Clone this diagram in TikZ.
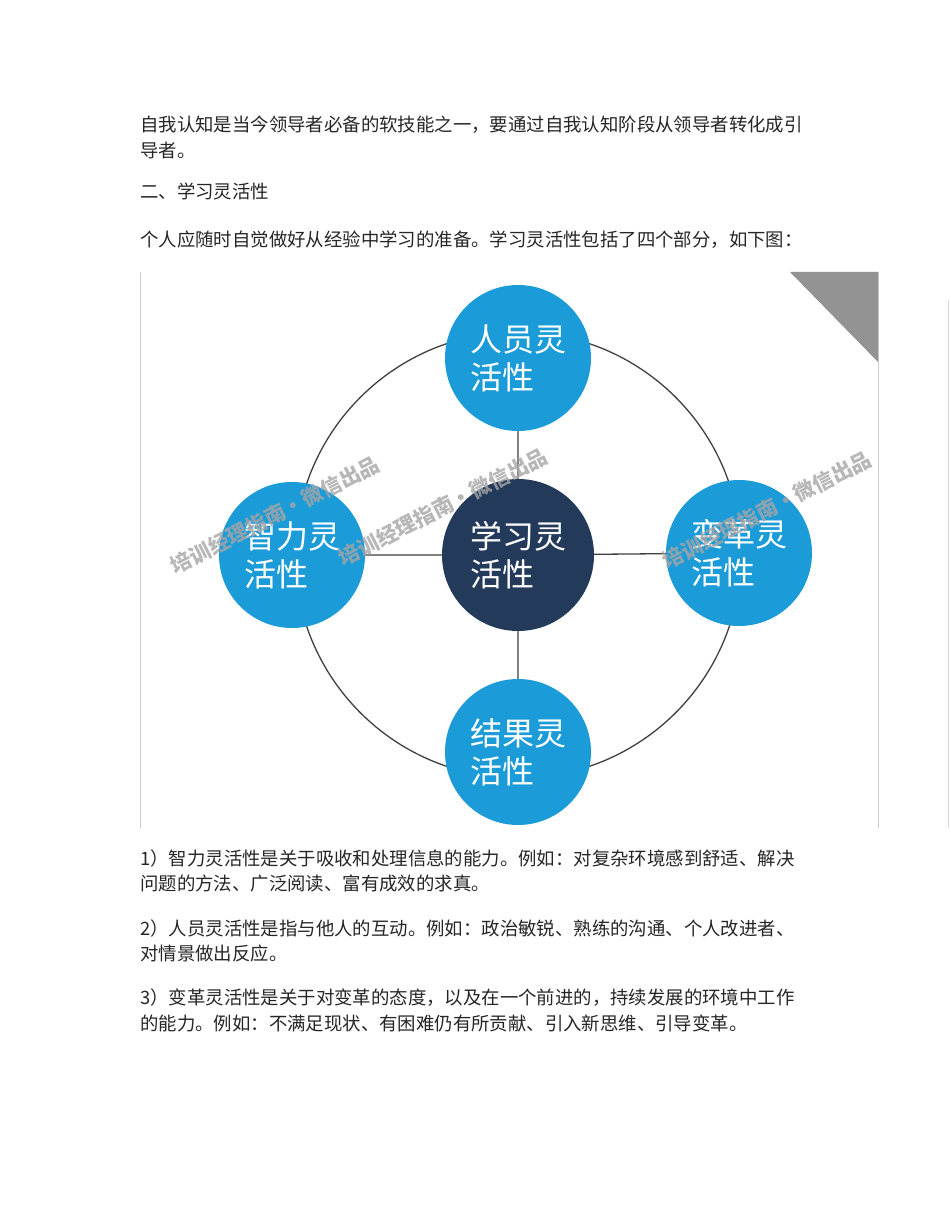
\documentclass[tikz,border=0pt]{standalone}
\usepackage{fontspec}
\setmainfont{Noto Sans CJK SC}
\newfontfamily\cjk{Noto Sans CJK SC}
\begin{document}
\begin{tikzpicture}[x=1pt,y=-1pt,
  body/.style={anchor=west,inner sep=0pt,font=\fontsize{18.4}{20}\selectfont,text=black!85},
  small/.style={circle,fill=blueC,minimum size=146pt,inner sep=0pt},
  lbl/.style={text=white,align=left,font=\fontsize{32}{38}\selectfont},
  wm/.style={text=gray!70,font=\bfseries\fontsize{21}{24}\selectfont,rotate=27,opacity=0.8}]
\definecolor{blueC}{HTML}{1B9BD7}
\definecolor{navy}{HTML}{243A5A}
\useasboundingbox[fill=white] (0,0) rectangle (950,1230);
\node[body] (t1) at (140,125) {自我认知是当今领导者必备的软技能之一，要通过自我认知阶段从领导者转化成引};
\node[body] (t2) at (140,151) {导者。};
\node[body] (t3) at (140,191) {二、学习灵活性};
\node[body] (t4) at (140,240) {个人应随时自觉做好从经验中学习的准备。学习灵活性包括了四个部分，如下图：};
% frame
\draw[gray!40] (140,272) -- (140,828);
\draw[gray!40] (878,272) -- (878,828);
\draw[gray!30] (948,300) -- (948,828);
\fill[gray!85] (790,272) -- (878,272) -- (878,362) -- cycle;
% diagram
\coordinate (O) at (518,555);
\draw[black!75,line width=1.3pt] (O) circle [radius=223];
\node[circle,fill=navy,minimum size=152pt,inner sep=0pt] (c) at (O) {};
\node[small] (top) at (518,358) {};
\node[small] (left) at (292,555) {};
\node[small] (right) at (739,553) {};
\node[small] (bot) at (518,752) {};
\draw[black!75,line width=1.3pt] (c) -- (top) (c) -- (left) (c) -- (right) (c) -- (bot);
\node[lbl] at (c) {学习灵\\活性};
\node[lbl] at (top) {人员灵\\活性};
\node[lbl] at (left) {智力灵\\活性};
\node[lbl] at (right) {变革灵\\活性};
\node[lbl] at (bot) {结果灵\\活性};
\node[wm] (w1) at (275,515) {培训经理指南·微信出品};
\node[wm] (w2) at (443,507) {培训经理指南·微信出品};
\node[wm] (w3) at (767,510) {培训经理指南·微信出品};
% below
\node[body] (b1) at (140,858) {1）智力灵活性是关于吸收和处理信息的能力。例如：对复杂环境感到舒适、解决};
\node[body] (b2) at (140,883) {问题的方法、广泛阅读、富有成效的求真。};
\node[body] (b3) at (140,928) {2）人员灵活性是指与他人的互动。例如：政治敏锐、熟练的沟通、个人改进者、};
\node[body] (b4) at (140,953) {对情景做出反应。};
\node[body] (b5) at (140,998) {3）变革灵活性是关于对变革的态度，以及在一个前进的，持续发展的环境中工作};
\node[body] (b6) at (140,1023) {的能力。例如：不满足现状、有困难仍有所贡献、引入新思维、引导变革。};
\end{tikzpicture}
\end{document}
